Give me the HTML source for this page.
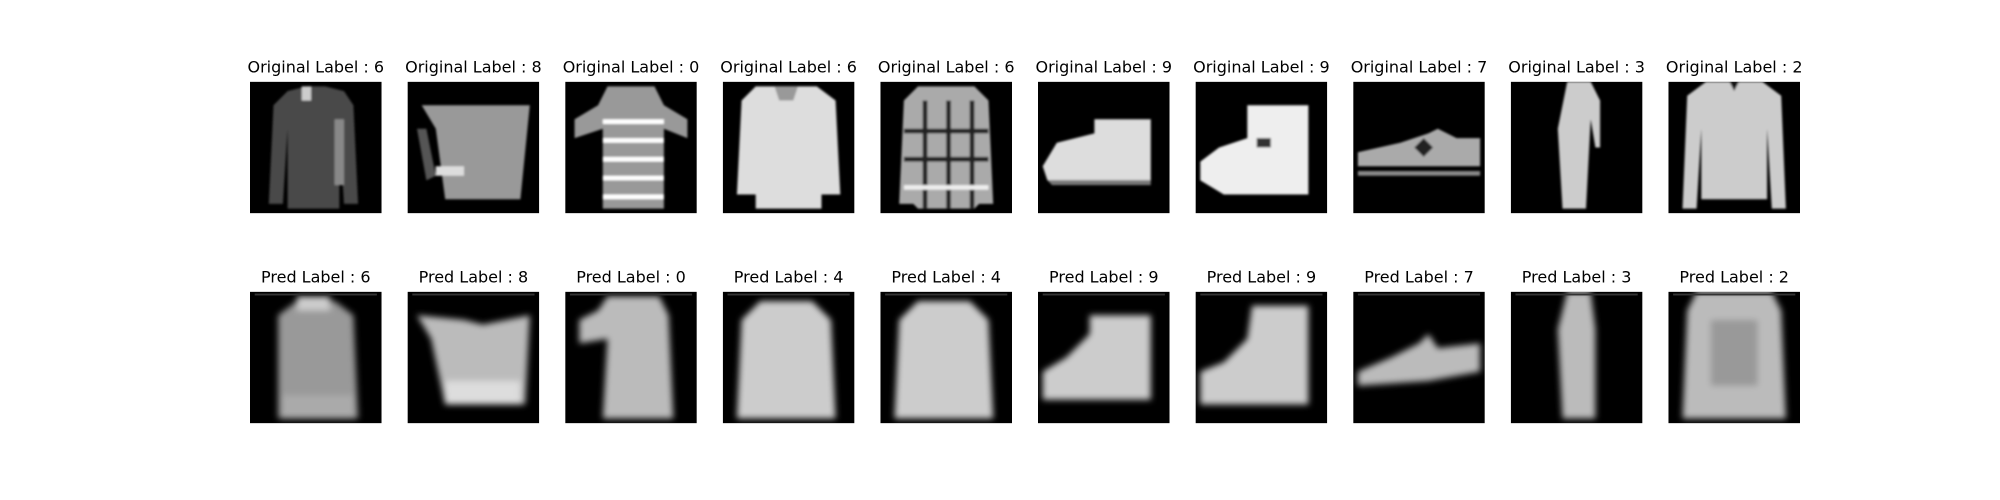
<!DOCTYPE html>
<html><head><meta charset="utf-8">
<style>
html,body{margin:0;padding:0;background:#fff;}
svg{display:block;}
text{font-family:"DejaVu Sans","Liberation Sans",sans-serif;font-size:16px;fill:#000;}
</style></head>
<body>
<svg id="fig" width="2000" height="500" viewBox="0 0 2000 500">
<defs>
<filter id="blur" x="-20%" y="-20%" width="140%" height="140%"><feGaussianBlur stdDeviation="0.7"/></filter>
<filter id="blurs" x="-20%" y="-20%" width="140%" height="140%"><feGaussianBlur stdDeviation="0.25"/></filter>
</defs>
</svg>
<script>
const origLabels = [6,8,0,6,6,9,9,7,3,2];
const predLabels = [6,8,0,4,4,9,9,7,3,2];
// shapes in 28x28 pixel space: [points, fill]
const origShapes = [
 [["8,2 12,1 16,1 20,2 22,5 23,26 20,26 19,10 19,27 8,27 8,10 7,26 4,26 5,5","#4a4a4a"],["11,1 13,1 13,4 11,4","#ccc"],["18,8 20,8 20,22 18,22","#888"]],
 [["3,5 26,5 24,25 8,25 6,10","#999"],["2,10 4,10 6,20 4,21","#555"],["6,18 12,18 12,20 6,20","#ddd"]],
 [["9,1 19,1 21,5 26,8 26,12 21,10 21,27 8,27 8,10 2,12 2,8 7,5","#999"],["8,8 21,8 21,9 8,9","#fff"],["8,12 21,12 21,13 8,13","#fff"],["8,16 21,16 21,17 8,17","#fff"],["8,20 21,20 21,21 8,21","#fff"],["8,24 21,24 21,25 8,25","#fff"]],
 [["7,1 20,1 24,4 25,24 21,24 21,27 7,27 7,24 3,24 4,4","#ddd"],["11,1 16,1 15,4 12,4","#999"]],
 [["8,1 20,1 23,4 24,26 21,26 20,27 8,27 7,26 4,26 5,4","#aaa"],["9,4 10,4 10,27 9,27","#222"],["14,4 15,4 15,27 14,27","#222"],["19,4 20,4 20,27 19,27","#222"],["5,10 23,10 23,11 5,11","#222"],["5,16 23,16 23,17 5,17","#222"],["5,22 23,22 23,23 5,23","#eee"]],
 [["12,8 24,8 24,21 2,21 1,18 4,13 12,11","#ddd"],["2,21 24,21 24,22 3,22","#777"]],
 [["11,5 24,5 24,24 6,24 1,21 1,17 5,14 11,12","#eee"],["13,12 16,12 16,14 13,14","#333"]],
 [["1,15 10,13 16,11 18,10 22,12 27,12 27,18 1,18","#aaa"],["1,19 27,19 27,20 1,20","#888"],["13,14 15,12 17,14 15,16","#222"]],
 [["12,0 17,0 19,4 19,14 18,14 17,8 16,27 11,27 10,10","#ccc"]],
 [["8,0 20,0 24,3 25,27 22,27 21,10 21,25 7,25 7,10 6,27 3,27 4,3","#ccc"],["13,0 15,0 14,2","#111"]]
];
const predShapes = [
 [["10,2 18,2 22,5 23,27 6,27 6,5","#999"],["10,1 17,1 17,4 10,4","#ccc"],["7,22 22,22 22,27 7,27","#aaa"]],
 [["2,5 12,6 16,7 26,5 25,24 8,24 5,10","#bbb"],["8,19 24,19 24,24 8,24","#ddd"]],
 [["9,1 20,1 22,5 23,27 8,27 9,10 3,11 3,6 7,4","#bbb"]],
 [["8,2 19,2 23,6 24,27 3,27 4,6","#ccc"]],
 [["8,2 19,2 23,6 24,27 3,27 4,6","#ccc"]],
 [["11,5 24,5 24,23 1,23 1,17 6,14 11,9","#ccc"]],
 [["12,3 24,3 24,24 1,24 1,17 6,15 11,10","#ccc"]],
 [["1,17 8,14 14,11 16,9 18,12 27,11 27,17 16,19 1,20","#bbb"]],
 [["12,0 17,0 18,8 18,27 11,27 10,8","#bbb"]],
 [["6,0 22,0 24,4 25,27 3,27 4,4","#bbb"],["9,6 19,6 19,20 9,20","#999"]]
];
const svg = document.getElementById('fig');
const NS = 'http://www.w3.org/2000/svg';
const x0 = 250, pitch = 157.6, size = 131.6;
const rowTop = [81.7, 291.7];
function drawImage(i, row, shapes, label, prefix) {
  const g = document.createElementNS(NS, 'g');
  
  
  const x = x0 + pitch * i, y = rowTop[row];
  const inner = document.createElementNS(NS, 'svg');
  inner.setAttribute('x', x); inner.setAttribute('y', y);
  inner.setAttribute('width', size); inner.setAttribute('height', size);
  inner.setAttribute('viewBox', '0 0 28 28');
  const bg = document.createElementNS(NS, 'rect');
  bg.setAttribute('width', 28); bg.setAttribute('height', 28); bg.setAttribute('fill', '#000');
  inner.appendChild(bg);
  const sg = document.createElementNS(NS, 'g');
  sg.setAttribute('filter', row ? 'url(#blur)' : 'url(#blurs)');
  shapes.forEach(s => {
    const p = document.createElementNS(NS, 'polygon');
    p.setAttribute('points', s[0]); p.setAttribute('fill', s[1]);
    sg.appendChild(p);
  });
  inner.appendChild(sg);
  if (row) {
    const ln = document.createElementNS(NS, 'rect');
    ln.setAttribute('x', 1); ln.setAttribute('y', 0.4); ln.setAttribute('width', 26); ln.setAttribute('height', 0.4); ln.setAttribute('fill', '#333');
    inner.appendChild(ln);
  }
  g.appendChild(inner);
  const t = document.createElementNS(NS, 'text');
  
  
  t.setAttribute('x', x + size / 2); t.setAttribute('y', y - 9);
  t.setAttribute('text-anchor', 'middle');
  t.textContent = prefix + ' : ' + label;
  g.appendChild(t);
  svg.appendChild(g);
}
origLabels.forEach((l, i) => drawImage(i, 0, origShapes[i], l, 'Original Label'));
predLabels.forEach((l, i) => drawImage(i, 1, predShapes[i], l, 'Pred Label'));
</script>
</body></html>
